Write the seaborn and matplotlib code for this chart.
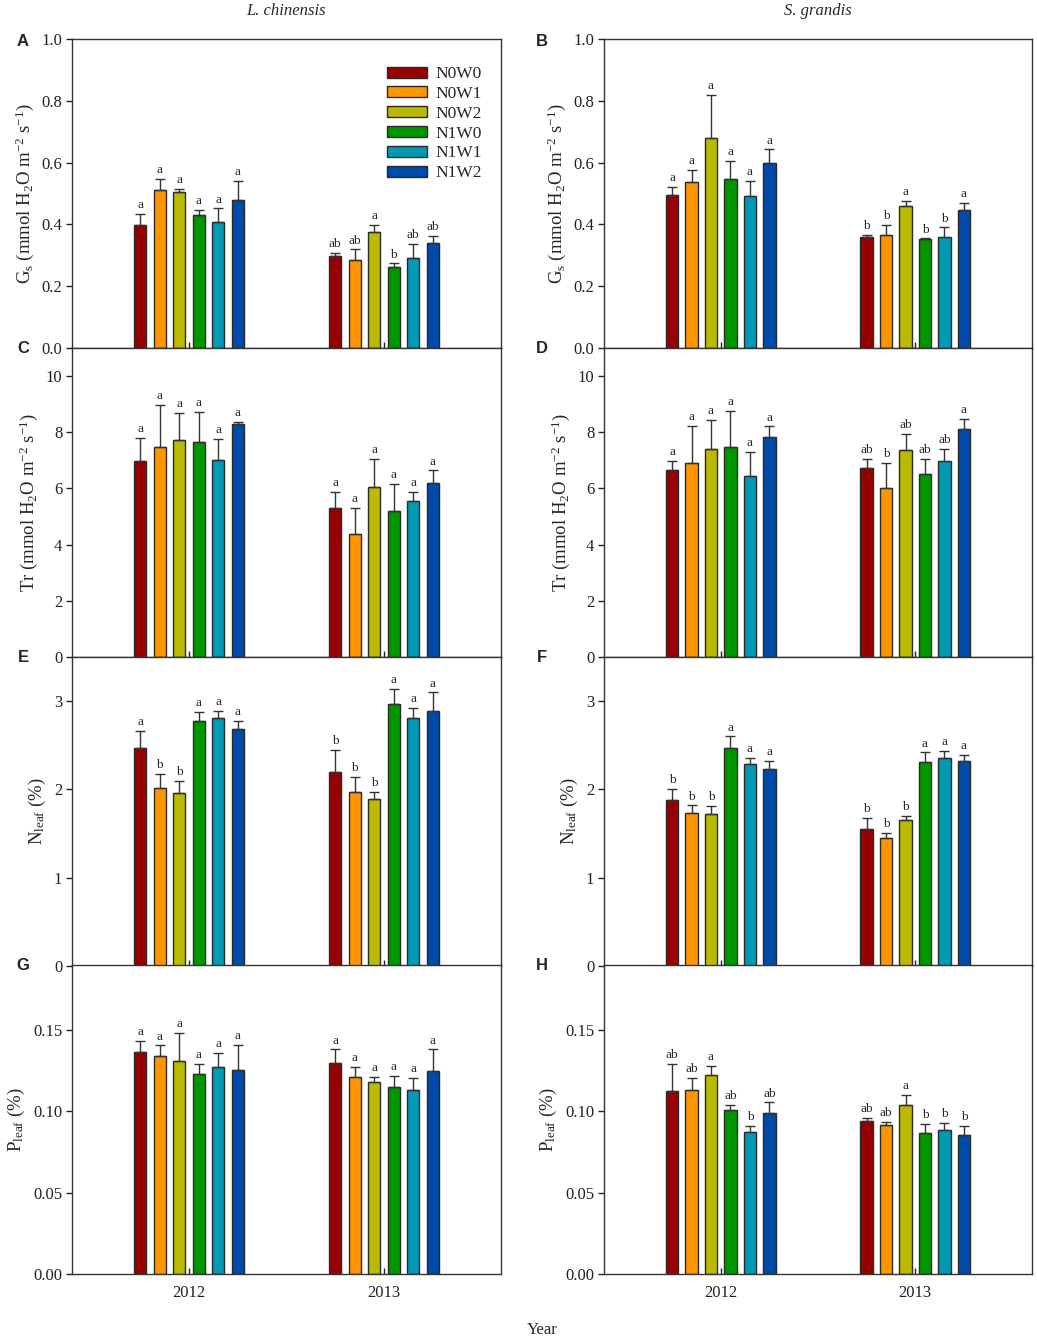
import numpy as np
import pandas as pd
import seaborn as sns
import matplotlib
matplotlib.use("Agg")
from matplotlib import pyplot as plt
from matplotlib.container import BarContainer
from matplotlib.ticker import FormatStrFormatter, MultipleLocator

treatments = ["N0W0", "N0W1", "N0W2", "N1W0", "N1W1", "N1W2"]
years = ["2012", "2013"]
colors = ["#960000", "#FF9600", "#BABA00", "#009600", "#009AB4", "#004AAA"]

# values: rows are years (2012, 2013), columns are treatments
gs_lc_mean = [[0.397, 0.510, 0.504, 0.429, 0.409, 0.479],
              [0.298, 0.285, 0.374, 0.263, 0.292, 0.341]]
gs_lc_err = [[0.037, 0.038, 0.011, 0.019, 0.043, 0.063],
             [0.011, 0.034, 0.024, 0.011, 0.044, 0.023]]
gs_lc_sig = [["a", "a", "a", "a", "a", "a"],
             ["ab", "ab", "a", "b", "ab", "ab"]]

gs_sg_mean = [[0.494, 0.538, 0.678, 0.546, 0.491, 0.600],
              [0.360, 0.366, 0.459, 0.353, 0.360, 0.447]]
gs_sg_err = [[0.028, 0.039, 0.140, 0.059, 0.051, 0.043],
             [0.006, 0.032, 0.017, 0.002, 0.030, 0.022]]
gs_sg_sig = [["a", "a", "a", "a", "a", "a"],
             ["b", "b", "a", "b", "b", "a"]]

tr_lc_mean = [[6.96, 7.47, 7.74, 7.65, 7.03, 8.30],
              [5.29, 4.37, 6.05, 5.21, 5.56, 6.19]]
tr_lc_err = [[0.84, 1.50, 0.94, 1.07, 0.74, 0.07],
             [0.59, 0.93, 1.00, 0.96, 0.32, 0.45]]
tr_lc_sig = [["a", "a", "a", "a", "a", "a"],
             ["a", "a", "a", "a", "a", "a"]]

tr_sg_mean = [[6.64, 6.89, 7.40, 7.46, 6.43, 7.84],
              [6.72, 6.02, 7.38, 6.51, 6.98, 8.10]]
tr_sg_err = [[0.34, 1.34, 1.03, 1.31, 0.87, 0.37],
             [0.32, 0.89, 0.57, 0.53, 0.42, 0.39]]
tr_sg_sig = [["a", "a", "a", "a", "a", "a"],
             ["ab", "b", "ab", "ab", "ab", "a"]]

n_lc_mean = [[2.47, 2.02, 1.96, 2.78, 2.81, 2.69],
             [2.20, 1.97, 1.89, 2.97, 2.81, 2.89]]
n_lc_err = [[0.19, 0.16, 0.14, 0.10, 0.08, 0.09],
            [0.25, 0.17, 0.08, 0.17, 0.11, 0.21]]
n_lc_sig = [["a", "b", "b", "a", "a", "a"],
            ["b", "b", "b", "a", "a", "a"]]

n_sg_mean = [[1.88, 1.73, 1.72, 2.47, 2.29, 2.23],
             [1.55, 1.45, 1.65, 2.31, 2.36, 2.32]]
n_sg_err = [[0.13, 0.09, 0.09, 0.13, 0.07, 0.09],
            [0.13, 0.06, 0.05, 0.11, 0.08, 0.07]]
n_sg_sig = [["b", "b", "b", "a", "a", "a"],
            ["b", "b", "b", "a", "a", "a"]]

p_lc_mean = [[0.1365, 0.1338, 0.1307, 0.1229, 0.1272, 0.1252],
             [0.1299, 0.1209, 0.1180, 0.1147, 0.1131, 0.1246]]
p_lc_err = [[0.0068, 0.0068, 0.0177, 0.0062, 0.0086, 0.0158],
            [0.0082, 0.0066, 0.0031, 0.0070, 0.0074, 0.0135]]
p_lc_sig = [["a", "a", "a", "a", "a", "a"],
            ["a", "a", "a", "a", "a", "a"]]

p_sg_mean = [[0.1123, 0.1131, 0.1221, 0.1008, 0.0876, 0.0989],
             [0.0940, 0.0917, 0.1038, 0.0870, 0.0884, 0.0852]]
p_sg_err = [[0.0168, 0.0074, 0.0057, 0.0033, 0.0037, 0.0066],
            [0.0021, 0.0016, 0.0064, 0.0053, 0.0044, 0.0057]]
p_sg_sig = [["ab", "ab", "a", "ab", "b", "ab"],
            ["ab", "ab", "a", "b", "b", "b"]]

gs_label = r"G$_\mathrm{s}$ (mmol H$_\mathrm{2}$O m$^\mathrm{-2}$ s$^\mathrm{-1}$)"
tr_label = r"Tr (mmol H$_\mathrm{2}$O m$^\mathrm{-2}$ s$^\mathrm{-1}$)"
n_label = r"N$_\mathrm{leaf}$ (%)"
p_label = r"P$_\mathrm{leaf}$ (%)"

# rows of panels: left, right, ylabel, ylim top, tick step, tick format
rows = [
    [("A", gs_lc_mean, gs_lc_err, gs_lc_sig), ("B", gs_sg_mean, gs_sg_err, gs_sg_sig), gs_label, 1.0, 0.2, "%.1f"],
    [("C", tr_lc_mean, tr_lc_err, tr_lc_sig), ("D", tr_sg_mean, tr_sg_err, tr_sg_sig), tr_label, 11, 2, "%d"],
    [("E", n_lc_mean, n_lc_err, n_lc_sig), ("F", n_sg_mean, n_sg_err, n_sg_sig), n_label, 3.5, 1, "%d"],
    [("G", p_lc_mean, p_lc_err, p_lc_sig), ("H", p_sg_mean, p_sg_err, p_sg_sig), p_label, 0.19, 0.05, "%.2f"],
]

sns.set_theme(style="ticks")
plt.rcParams["font.family"] = ["Liberation Serif", "DejaVu Serif"]
plt.rcParams["mathtext.fontset"] = "custom"
plt.rcParams["mathtext.rm"] = "Liberation Serif"
plt.rcParams["mathtext.it"] = "Liberation Serif:italic"
plt.rcParams["font.size"] = 12

W, H = 1037, 1339
fig = plt.figure(figsize=(W / 100, H / 100), dpi=100)

col_left = [72 / W, 604 / W]
col_width = [429 / W, 428 / W]
row_top_px = [39, 348, 657, 965]
row_h_px = 309

edge = "#2a2a2a"

for r, (left, right, ylabel, ytop, ystep, fmt) in enumerate(rows):
    for c, (letter, mean, err, sig) in enumerate([left, right]):
        bottom = 1 - (row_top_px[r] + row_h_px) / H
        ax = fig.add_axes([col_left[c], bottom, col_width[c], row_h_px / H])

        df = pd.DataFrame({
            "year": np.repeat(years, len(treatments)),
            "treatment": treatments * len(years),
            "value": np.ravel(mean),
        })
        sns.barplot(data=df, x="year", y="value", hue="treatment",
                    order=years, hue_order=treatments,
                    palette=dict(zip(treatments, colors)), saturation=1,
                    width=0.6, gap=0.36, edgecolor=edge, linewidth=1,
                    legend=False, ax=ax)
        bars = [cont for cont in ax.containers if isinstance(cont, BarContainer)]

        # error bars (upper only) and significance letters
        for i, cont in enumerate(bars):
            for p in cont.patches:
                x = p.get_x() + p.get_width() / 2
                h = p.get_height()
                j = int(round(x))
                e = err[j][i]
                ax.errorbar(x, h, yerr=[[0], [e]], fmt="none", ecolor="#333333",
                            elinewidth=1, capsize=3.5, capthick=1, zorder=3)
                ax.annotate(sig[j][i], (x, h + e), xytext=(0, 2),
                            textcoords="offset points", ha="center", va="bottom",
                            fontsize=9.5)

        ax.set_xlim(-0.6, 1.6)
        ax.set_ylim(0, ytop)
        ax.yaxis.set_major_locator(MultipleLocator(ystep))
        ax.yaxis.set_major_formatter(FormatStrFormatter(fmt))
        ax.set_xlabel("")
        ax.set_ylabel(ylabel, fontsize=13.5)
        ax.tick_params(axis="y", direction="out", length=4, width=1, labelsize=12,
                       colors="#222222", pad=3)
        ax.tick_params(axis="x", direction="in", length=4, width=1, labelsize=12,
                       colors="#222222", pad=8)
        if r < len(rows) - 1:
            ax.tick_params(axis="x", labelbottom=False)
        for s in ax.spines.values():
            s.set_visible(True)
            s.set_color("#333333")
            s.set_linewidth(1)

        fig.text([23, 542][c] / W, 1 - [42, 348, 657, 965][r] / H, letter,
                 family="Liberation Sans", weight="bold", fontsize=12,
                 ha="center", va="center")

        if r == 0:
            ax.set_title(["L. chinensis", "S. grandis"][c], style="italic",
                         fontsize=12, pad=17)
            if c == 0:
                ax.legend(bars, treatments, loc="upper left",
                          bbox_to_anchor=(0.735, 0.912), frameon=False,
                          fontsize=12.5, handlelength=2.3, handleheight=0.6,
                          labelspacing=0.22, handletextpad=0.5,
                          borderpad=0, borderaxespad=0)

fig.text(542 / W, 1 - 1330 / H, "Year", ha="center", va="center", fontsize=12)

fig.savefig("out.png", dpi=100)
